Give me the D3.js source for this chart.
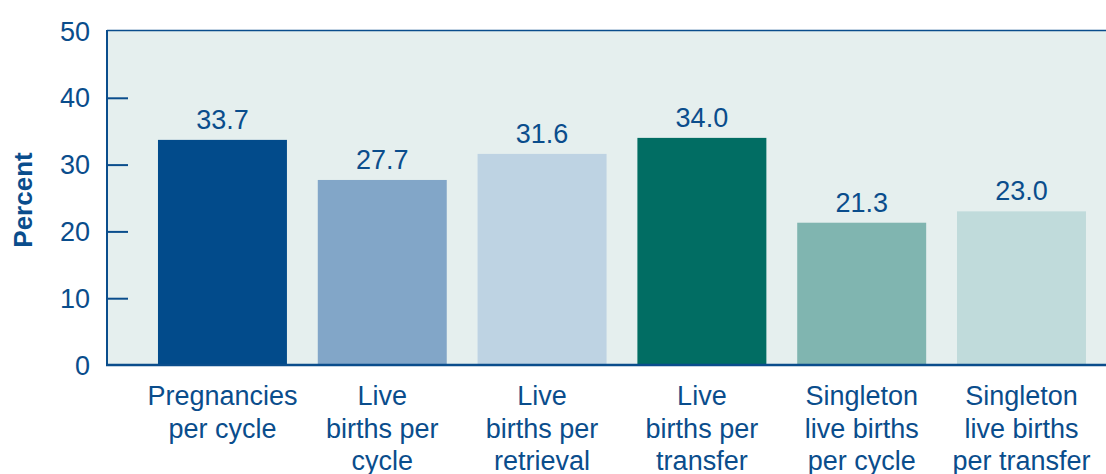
<!DOCTYPE html>
<html>
<head>
<meta charset="utf-8">
<script src="https://cdn.jsdelivr.net/npm/d3@7"></script>
<style>
  html, body { margin: 0; padding: 0; background: #ffffff; }
  svg { display: block; }
  text { font-family: "Liberation Sans", Arial, Helvetica, sans-serif; }
</style>
</head>
<body>
<svg id="chart" width="1106" height="474"></svg>
<script>
const categories = [
  "Pregnancies\nper cycle",
  "Live\nbirths per\ncycle",
  "Live\nbirths per\nretrieval",
  "Live\nbirths per\ntransfer",
  "Singleton\nlive births\nper cycle",
  "Singleton\nlive births\nper transfer"
];
const values = [33.7, 27.7, 31.6, 34.0, 21.3, 23.0];
const valueLabels = ["33.7", "27.7", "31.6", "34.0", "21.3", "23.0"];
const barColors = ["#024b8b", "#82a6c8", "#bed3e3", "#016d63", "#80b5b0", "#c0dbdb"];
const yTicks = [0, 10, 20, 30, 40, 50];
const yLabel = "Percent";

(function () {
const W = 1106, H = 474;
const mLeft = 107, mRight = 1106, mTop = 31, mBottom = 365;
const ink = "#0a4d8c";

const svg = d3.select("#chart");

const x = d3.scaleBand()
  .domain(d3.range(categories.length))
  .range([mLeft + 1, mRight])
  .paddingInner(0.193)
  .paddingOuter(0.219)
  .align(0.714);

const y = d3.scaleLinear().domain([0, 50]).range([mBottom, mTop]);

// plot background
svg.append("rect")
  .attr("x", mLeft).attr("y", mTop)
  .attr("width", mRight - mLeft).attr("height", mBottom - mTop)
  .attr("fill", "#e5efee");

// bars
svg.selectAll("rect.bar")
  .data(values)
  .join("rect")
  .attr("class", "bar")
  .attr("x", (d, i) => x(i))
  .attr("y", d => y(d))
  .attr("width", x.bandwidth())
  .attr("height", d => y(0) - y(d))
  .attr("fill", (d, i) => barColors[i]);

// value labels
svg.selectAll("text.val")
  .data(values)
  .join("text")
  .attr("class", "val")
  .attr("x", (d, i) => x(i) + x.bandwidth() / 2)
  .attr("y", d => y(d) - 11)
  .attr("text-anchor", "middle")
  .attr("font-size", 27)
  .attr("fill", ink)
  .text((d, i) => valueLabels[i]);

// top border
svg.append("line")
  .attr("x1", mLeft).attr("x2", mRight)
  .attr("y1", mTop - 0.5).attr("y2", mTop - 0.5)
  .attr("stroke", ink).attr("stroke-width", 1.5);

// y axis
const yAxis = d3.axisRight(y)
  .tickValues(yTicks)
  .tickSize(21)
  .tickFormat("");
const gy = svg.append("g").attr("transform", `translate(${mLeft},0)`).call(yAxis);
gy.select(".domain").remove();
gy.selectAll(".tick line")
  .attr("stroke", ink).attr("stroke-width", 2)
  .filter(d => d === 0 || d === 50).remove();

svg.append("g").selectAll("text.ytick")
  .data(yTicks)
  .join("text")
  .attr("class", "ytick")
  .attr("x", 90)
  .attr("y", d => y(d) + 9.5)
  .attr("text-anchor", "end")
  .attr("font-size", 27)
  .attr("fill", ink)
  .text(d => d);

// left and bottom axis lines
svg.append("line")
  .attr("x1", mLeft).attr("x2", mLeft)
  .attr("y1", mTop - 1).attr("y2", mBottom + 1)
  .attr("stroke", ink).attr("stroke-width", 2);
svg.append("line")
  .attr("x1", mLeft - 1).attr("x2", mRight)
  .attr("y1", mBottom).attr("y2", mBottom)
  .attr("stroke", ink).attr("stroke-width", 2.5);

// category labels
const cat = svg.selectAll("text.cat")
  .data(categories)
  .join("text")
  .attr("class", "cat")
  .attr("text-anchor", "middle")
  .attr("font-size", 27)
  .attr("fill", ink)
  .attr("transform", (d, i) => `translate(${x(i) + x.bandwidth() / 2},0)`);
cat.selectAll("tspan")
  .data(d => d.split("\n"))
  .join("tspan")
  .attr("x", 0)
  .attr("y", (d, j) => 405 + j * 32.5)
  .text(d => d);

// y label
svg.append("text")
  .attr("transform", "translate(32,200) rotate(-90)")
  .attr("text-anchor", "middle")
  .attr("font-size", 26)
  .attr("font-weight", "bold")
  .attr("fill", ink)
  .text(yLabel);
})();
</script>
</body>
</html>
